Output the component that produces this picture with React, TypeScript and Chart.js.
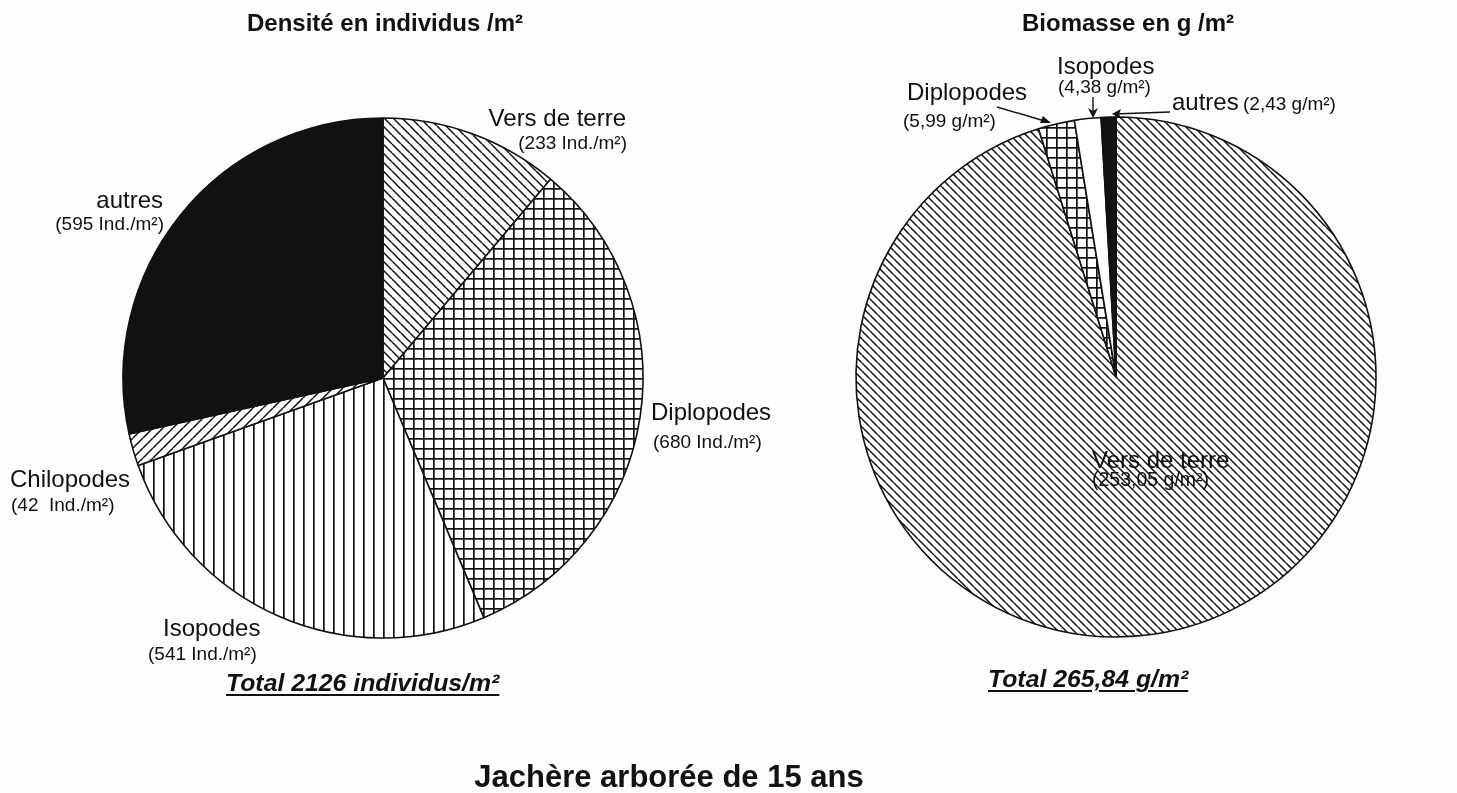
import React, { useEffect, useRef } from "react";
import { Chart, registerables } from "chart.js";
Chart.register(...registerables);

// ---------- data ----------
const densityCategories = ["Vers de terre", "Diplopodes", "Isopodes", "Chilopodes", "autres"];
const densityValues = [233, 680, 541, 42, 595];
const densityFills = ["backslash", "grid", "vertical", "slash", "solid"];
const densityTotal = 2126;

const biomassCategories = ["Vers de terre", "Diplopodes", "Isopodes", "autres"];
const biomassValues = [253.05, 5.99, 4.38, 2.43];
const biomassFills = ["backslashDense", "grid", "white", "solid"];
const biomassTotal = 265.84;

const titleLeft = "Densité en individus /m²";
const titleRight = "Biomasse en g /m²";
const mainTitle = "Jachère arborée de 15 ans";

const W = 1457;
const H = 793;
const FONT = '"Liberation Sans", Arial, Helvetica, sans-serif';
const INK = "#111";

const fr = (v: number) => v.toFixed(2).replace(".", ",");

function makeFill(kind: string): CanvasPattern | string {
  if (kind === "solid") return INK;
  if (kind === "white") return "#fff";
  const c = document.createElement("canvas");
  const ctx = c.getContext("2d")!;
  let s = 10;
  if (kind === "backslash") s = 9;
  if (kind === "backslashDense") s = 8;
  if (kind === "slash") s = 10;
  c.width = s;
  c.height = kind === "vertical" ? 1 : s;
  ctx.fillStyle = "#fff";
  ctx.fillRect(0, 0, c.width, c.height);
  ctx.fillStyle = INK;
  ctx.strokeStyle = INK;
  if (kind === "grid") {
    ctx.fillRect(0, 0, s, 1.7);
    ctx.fillRect(0, 0, 1.7, s);
  } else if (kind === "vertical") {
    ctx.fillRect(0, 0, 1.7, 1);
  } else {
    ctx.lineWidth = 1.5;
    ctx.beginPath();
    for (const k of [-1, 0, 1]) {
      if (kind === "slash") {
        ctx.moveTo(k * s, s);
        ctx.lineTo(k * s + s, 0);
      } else {
        ctx.moveTo(k * s, 0);
        ctx.lineTo(k * s + s, s);
      }
    }
    ctx.stroke();
  }
  return ctx.createPattern(c, "repeat")!;
}

function Pie(props: { labels: string[]; values: number[]; fills: string[]; cx: number; cy: number; r: number }) {
  const ref = useRef<HTMLCanvasElement>(null);
  const size = Math.ceil(props.r * 2 + 20);
  useEffect(() => {
    const chart = new Chart(ref.current!, {
      type: "pie",
      data: {
        labels: props.labels,
        datasets: [
          {
            data: props.values,
            backgroundColor: props.fills.map(makeFill) as any,
            borderColor: INK,
            borderWidth: 1.6,
            hoverOffset: 0,
          },
        ],
      },
      options: {
        responsive: false,
        animation: false,
        radius: props.r,
        layout: { padding: 0 },
        events: [],
        plugins: { legend: { display: false }, tooltip: { enabled: false } },
      } as any,
    });
    return () => chart.destroy();
  }, []);
  return (
    <canvas
      ref={ref}
      width={size}
      height={size}
      style={{ position: "absolute", left: props.cx - size / 2, top: props.cy - size / 2, width: size, height: size }}
    />
  );
}

function Label(p: {
  x: number;
  y: number;
  text: string;
  size: number;
  align?: "left" | "right" | "center";
  bold?: boolean;
  italic?: boolean;
  underline?: boolean;
}) {
  const style: React.CSSProperties = {
    position: "absolute",
    top: p.y - 0.8465 * p.size,
    fontSize: p.size,
    lineHeight: `${p.size}px`,
    fontFamily: FONT,
    fontWeight: p.bold ? 700 : 400,
    fontStyle: p.italic ? "italic" : "normal",
    textDecoration: p.underline ? "underline" : "none",
    textDecorationThickness: p.underline ? "2px" : undefined,
    textUnderlineOffset: p.underline ? "3px" : undefined,
    whiteSpace: "pre",
    color: INK,
    zIndex: 2,
  };
  if (p.align === "right") style.right = W - p.x;
  else if (p.align === "center") {
    style.left = p.x;
    style.transform = "translateX(-50%)";
  } else style.left = p.x;
  return <div style={style}>{p.text}</div>;
}

export default function App() {
  const d = densityValues;
  const b = biomassValues;
  return (
    <div style={{ position: "absolute", left: 0, top: 0, width: W, height: H, background: "#fdfdfd", overflow: "hidden" }}>
      <Pie labels={densityCategories} values={densityValues} fills={densityFills} cx={383} cy={378} r={260} />
      <Pie labels={biomassCategories} values={biomassValues} fills={biomassFills} cx={1116} cy={377} r={260} />

      <Label x={385} y={31} text={titleLeft} size={24} bold align="center" />
      <Label x={1128} y={31} text={titleRight} size={24} bold align="center" />

      {/* left pie labels */}
      <Label x={626} y={126} text={densityCategories[0]} size={24} align="right" />
      <Label x={627} y={149} text={`(${d[0]} Ind./m²)`} size={19} align="right" />
      <Label x={651} y={420} text={densityCategories[1]} size={24} />
      <Label x={653} y={448} text={`(${d[1]} Ind./m²)`} size={19} />
      <Label x={163} y={636} text={densityCategories[2]} size={24} />
      <Label x={148} y={660} text={`(${d[2]} Ind./m²)`} size={19} />
      <Label x={10} y={487} text={densityCategories[3]} size={24} />
      <Label x={11} y={511} text={`(${d[3]}  Ind./m²)`} size={19} />
      <Label x={163} y={208} text={densityCategories[4]} size={24} align="right" />
      <Label x={164} y={230} text={`(${d[4]} Ind./m²)`} size={19} align="right" />
      <Label x={226} y={692} text={`Total ${densityTotal} individus/m²`} size={24.8} bold italic underline />

      {/* right pie labels */}
      <Label x={1092} y={468} text={biomassCategories[0]} size={24} />
      <Label x={1092} y={487} text={`(${fr(b[0])} g/m²)`} size={19.5} />
      <Label x={907} y={100} text={biomassCategories[1]} size={24} />
      <Label x={903} y={127} text={`(${fr(b[1])} g/m²)`} size={19} />
      <Label x={1057} y={74} text={biomassCategories[2]} size={24} />
      <Label x={1058} y={93} text={`(${fr(b[2])} g/m²)`} size={19} />
      <Label x={1172} y={110} text={biomassCategories[3]} size={24} />
      <Label x={1243} y={110} text={`(${fr(b[3])} g/m²)`} size={19} />
      <Label x={988} y={688} text={`Total ${fr(biomassTotal)} g/m²`} size={24.8} bold italic underline />

      <Label x={669} y={787} text={mainTitle} size={31} bold align="center" />

      <svg width={W} height={H} style={{ position: "absolute", left: 0, top: 0, zIndex: 1 }}>
        <g stroke={INK} strokeWidth={1.4} fill="none">
          <line x1={997} y1={107} x2={1048} y2={122} />
          <line x1={1093} y1={97} x2={1093} y2={116} />
          <line x1={1170} y1={112} x2={1114} y2={114} />
        </g>
        <g fill={INK}>
          <polygon points="1051,123 1040,123 1043,116" />
          <polygon points="1093,118 1088,108 1093,111 1098,108" />
          <polygon points="1112,114 1121,109 1119,114 1121,119" />
        </g>
      </svg>
    </div>
  );
}
